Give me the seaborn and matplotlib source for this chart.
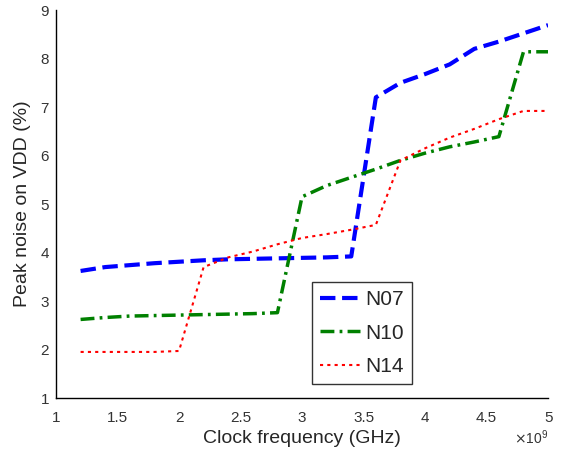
import pandas as pd
import matplotlib.pyplot as plt
from matplotlib.ticker import ScalarFormatter
import seaborn as sns

# Frecuencia de reloj (Hz) y ruido pico en VDD (%)
freq = [1.2e9, 1.4e9, 1.6e9, 1.8e9, 2.0e9, 2.2e9, 2.4e9, 2.6e9, 2.8e9, 3.0e9,
        3.2e9, 3.4e9, 3.6e9, 3.8e9, 4.0e9, 4.2e9, 4.4e9, 4.6e9, 4.8e9, 5.0e9]
n07 = [3.62, 3.70, 3.74, 3.78, 3.81, 3.84, 3.86, 3.87, 3.88, 3.89,
       3.90, 3.92, 7.20, 7.50, 7.68, 7.88, 8.20, 8.35, 8.52, 8.69]
n10 = [2.62, 2.66, 2.69, 2.70, 2.71, 2.72, 2.73, 2.74, 2.76, 5.15,
       5.38, 5.55, 5.72, 5.90, 6.05, 6.18, 6.28, 6.39, 8.14, 8.14]
n14 = [1.95, 1.95, 1.95, 1.95, 1.97, 3.70, 3.90, 4.02, 4.17, 4.30,
       4.38, 4.47, 4.57, 5.90, 6.15, 6.37, 6.55, 6.75, 6.92, 6.92]


# etiquetas "1, 1.5, 2 ..." con el factor x10^9 aparte
class GFormatter(ScalarFormatter):
    def _set_format(self):
        self.format = "%g"


sns.set_style("white")
plt.rcParams["font.family"] = ["Liberation Sans", "DejaVu Sans"]

fig = plt.figure(figsize=(5.61, 4.58), dpi=100)
ax = fig.add_axes([0.0998, 0.131, 0.8772, 0.847])

sns.lineplot(x=freq, y=n07, ax=ax, color=(0, 0, 1), linestyle=(0, (3.7, 1.6)), linewidth=3, label="N07")
sns.lineplot(x=freq, y=n10, ax=ax, color=(0, 0.5, 0), linestyle=(0, (4, 1.5, 0.8, 1.5)), linewidth=2.5, label="N10")
sns.lineplot(x=freq, y=n14, ax=ax, color=(1, 0, 0), linestyle=(0, (1.5, 2)), linewidth=1.5, label="N14")

ax.set_xlim(1e9, 5e9)
ax.set_ylim(1, 9)
ax.set_xticks([1e9, 1.5e9, 2e9, 2.5e9, 3e9, 3.5e9, 4e9, 4.5e9, 5e9])
ax.set_yticks(range(1, 10))
fmt = GFormatter(useMathText=True)
fmt.set_powerlimits((0, 0))
ax.xaxis.set_major_formatter(fmt)
ax.xaxis.get_offset_text().set_fontsize(10)
ax.xaxis.get_offset_text().set_color("#333333")
ax.tick_params(direction="in", length=4, width=0.8, labelsize=11, colors="#333333",
               labelcolor="#333333")
ax.tick_params(axis="x", pad=9)
ax.tick_params(axis="y", pad=5)
for s in ["top", "right"]:
    ax.spines[s].set_visible(False)
for s in ["left", "bottom"]:
    ax.spines[s].set_color("black")
    ax.spines[s].set_linewidth(1.0)

ax.set_xlabel("Clock frequency (GHz)", fontsize=14, labelpad=4)
ax.set_ylabel("Peak noise on VDD (%)", fontsize=14, labelpad=7)

leg = ax.legend(loc="upper left", bbox_to_anchor=(0.52, 0.30), borderaxespad=0,
                fontsize=15, frameon=True, fancybox=False, handlelength=1.9,
                borderpad=0.4, labelspacing=0.7, handletextpad=0.25)
leg.get_frame().set_edgecolor("black")
leg.get_frame().set_linewidth(1.0)

plt.savefig("out.png", dpi=100)
